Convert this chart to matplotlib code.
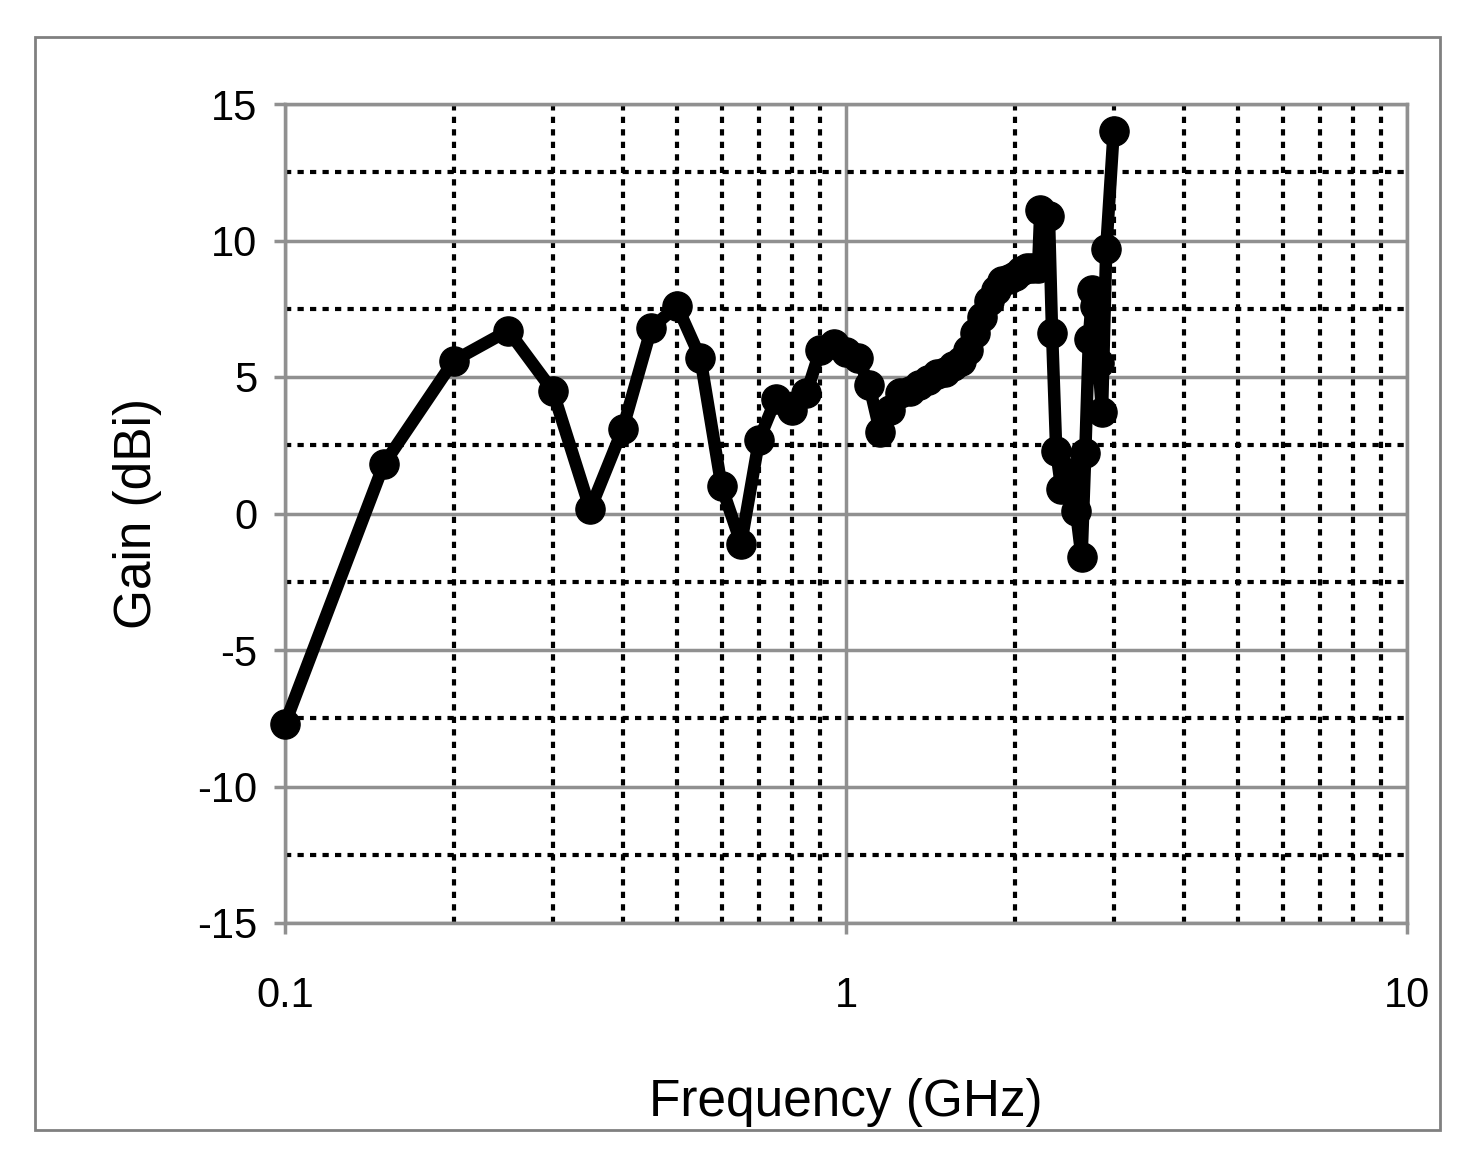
import matplotlib
matplotlib.use("Agg")
import matplotlib.pyplot as plt
from matplotlib.patches import Rectangle
from matplotlib.ticker import FixedLocator, NullFormatter

plt.rcParams['font.family'] = ['Liberation Sans', 'DejaVu Sans']
plt.rcParams['axes.unicode_minus'] = False

freq = [0.1, 0.15, 0.2, 0.25, 0.3, 0.35, 0.4, 0.45, 0.5, 0.55, 0.6, 0.65, 0.7, 0.75,
        0.8, 0.85, 0.9, 0.95, 1.0, 1.05, 1.1, 1.15, 1.2, 1.25, 1.3, 1.35, 1.4, 1.45,
        1.5, 1.55, 1.6, 1.65, 1.7, 1.75, 1.8, 1.85, 1.9, 1.95, 2.0, 2.05, 2.1, 2.15,
        2.2, 2.22, 2.3, 2.33, 2.37, 2.42, 2.5, 2.57, 2.63, 2.67, 2.71, 2.75, 2.78,
        2.82, 2.86, 2.91, 3.0]
gain = [-7.7, 1.8, 5.6, 6.7, 4.5, 0.15, 3.1, 6.8, 7.6, 5.7, 1.0, -1.1, 2.7, 4.2,
        3.8, 4.4, 6.0, 6.2, 5.9, 5.7, 4.7, 3.0, 3.8, 4.4, 4.5, 4.7, 4.9, 5.1,
        5.2, 5.4, 5.6, 6.0, 6.6, 7.2, 7.8, 8.2, 8.5, 8.6, 8.7, 8.9, 9.0, 9.0,
        9.0, 11.1, 10.9, 6.6, 2.3, 0.9, 1.5, 0.1, -1.6, 2.2, 6.4, 8.2, 7.6,
        5.5, 3.7, 9.7, 14.0]

fig = plt.figure(figsize=(14.67, 11.67), dpi=100)
fig.add_artist(Rectangle((35/1467, 1-1130/1167), 1405/1467, 1093/1167,
                         transform=fig.transFigure, fill=False, edgecolor='#808080', lw=2))
ax = fig.add_axes([285/1467, 1-923/1167, 1122/1467, 819/1167])
ax.set_xscale('log')
ax.set_xlim(0.1, 10)
ax.set_ylim(-15, 15)
ax.set_yticks([-15, -10, -5, 0, 5, 10, 15])
ax.set_xticks([0.1, 1, 10])
ax.set_xticklabels(['0.1', '1', '10'])
minx = [m * d for d in (0.1, 1) for m in range(2, 10)]
ax.xaxis.set_minor_locator(FixedLocator(minx))
ax.xaxis.set_minor_formatter(NullFormatter())
ax.yaxis.set_minor_locator(FixedLocator([-12.5, -7.5, -2.5, 2.5, 7.5, 12.5]))
ax.grid(which='major', color='#909090', lw=2.5, ls='-')
ax.grid(which='minor', color='black', lw=3, ls=(0, (1.5, 1.5)))
for s in ax.spines.values():
    s.set_color('#909090'); s.set_linewidth(2.5)
ax.tick_params(which='major', length=8, width=2.5, color='#909090', labelsize=30, pad=12)
ax.tick_params(which='minor', length=0)
ax.tick_params(axis='x', which='major', pad=30)
ax.plot(freq, gain, color='black', lw=9, marker='o', markersize=21, zorder=5, clip_on=False)
ax.set_xlabel('Frequency (GHz)', fontsize=37, labelpad=45)
ax.set_ylabel('Gain (dBi)', fontsize=37, labelpad=25)
fig.savefig('out.png', dpi=100)
